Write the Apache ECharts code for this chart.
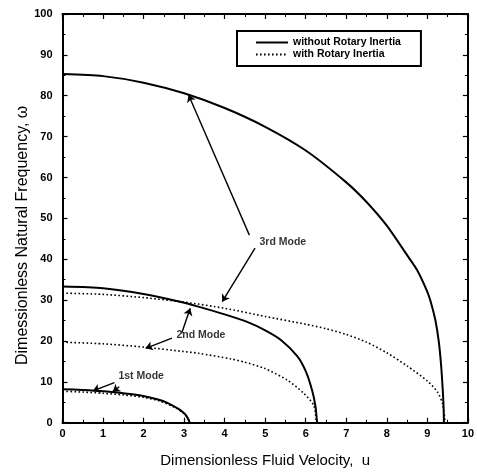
<!DOCTYPE html>
<html><head><meta charset="utf-8">
<script src="https://cdn.jsdelivr.net/npm/echarts@6/dist/echarts.min.js"></script>
<style>html,body{margin:0;padding:0;background:#fff}#c{width:477px;height:476px}</style>
</head><body><div id="c"></div>
<script>
// ---- data ----
const xTickLabels = ['0','1','2','3','4','5','6','7','8','9','10'];
const yTickLabels = ['0','10','20','30','40','50','60','70','80','90','100'];
const seriesNames = ['without Rotary Inertia', 'with Rotary Inertia'];

const mode1Without = [[0,8.2],[0.5,8.0],[1,7.7],[1.5,7.2],[1.9,6.7],[2.38,5.6],[2.6,4.8],[2.87,3.3],[3.0,2.3],[3.08,1.3],[3.14,0]];
const mode1With    = [[0,7.7],[0.5,7.5],[1,7.2],[1.5,6.8],[2,6.2],[2.4,5.3],[2.8,3.6],[3.0,2.2],[3.1,1.0],[3.14,0]];
const mode2Without = [[0,33.3],[1,32.9],[2,31.5],[2.9,29.6],[3.35,28.4],[4,26.5],[4.57,24.6],[5,22.6],[5.38,20.3],[5.79,16.3],[6.0,12.6],[6.16,7.8],[6.24,4.0],[6.28,0]];
const mode2With    = [[0,19.7],[1,19.3],[2,18.5],[3,17.4],[3.35,17.0],[4.16,15.6],[4.5,14.8],[4.98,13.3],[5.55,10.4],[5.95,7.2],[6.2,4.2],[6.26,0]];
const mode3Without = [[0,85.3],[1,84.8],[2,83.2],[3,80.6],[4,77.0],[5,72.4],[6,66.6],[7,58.8],[7.5,54.0],[8,48.2],[8.5,41.0],[8.75,37.3],[9,32.0],[9.1,29.0],[9.2,25.0],[9.28,20.0],[9.34,14.0],[9.38,8.0],[9.4,4.0],[9.41,0]];
const mode3With    = [[0,31.7],[1,31.4],[2,30.6],[3,29.5],[4,28.0],[5,26.0],[6,24.1],[6.5,23.0],[7,21.6],[7.5,19.7],[8,17.1],[8.5,13.9],[9,10.2],[9.25,7.5],[9.38,4.5],[9.44,0]];

const annotationLabels = [[4.86,44.2,'3rd Mode'],[2.81,21.4,'2nd Mode'],[1.38,11.4,'1st Mode']];
const annotationArrows = [
  [[4.61,45.9],[3.11,80.2]], [[4.75,42.7],[3.94,29.6]],
  [[2.70,20.7],[2.05,18.2]], [[2.94,21.9],[3.15,28.0]],
  [[1.28,9.8],[0.75,7.8]], [[1.40,8.8],[1.24,7.6]]
];

// ---- chart ----
const font = 'Liberation Sans, Arial, sans-serif';
const solidStyle = {color:'#000', width:2, type:'solid'};
const dotStyle = {color:'#000', width:1.6, type:[1.6,2.4]};
function lineSeries(name, data, style){
  return {name, type:'line', data, showSymbol:false, symbol:'none', smooth:0.25,
    lineStyle:style, itemStyle:{color:'#000'}, animation:false, z:3};
}
function axisBase(extra){
  return Object.assign({
    axisLine:{show:true, onZero:false, lineStyle:{color:'#000', width:2}},
    axisTick:{show:true, inside:true, length:5, lineStyle:{color:'#000', width:1.2}},
    minorTick:{show:true, splitNumber:2, length:3, lineStyle:{color:'#000', width:1}},
    splitLine:{show:false}
  }, extra);
}
const chart = echarts.init(document.getElementById('c'), null, {renderer:'canvas'});
chart.setOption({
  backgroundColor:'#fff',
  animation:false,
  grid:{left:62.5, right:4.3, top:14, bottom:53.3, containLabel:false},
  legend:{
    data:seriesNames, orient:'vertical', left:237, top:31,
    padding:[6,20,6,18], itemGap:1, itemWidth:32, itemHeight:10,
    borderColor:'#000', borderWidth:2, backgroundColor:'#fff',
    itemStyle:{opacity:0},
    textStyle:{fontFamily:font, fontWeight:'bold', fontSize:10.5, color:'#000'},
    selectedMode:false
  },
  xAxis:[
    axisBase({type:'value', position:'bottom', min:0, max:10, interval:1,
      axisLabel:{color:'#000', fontFamily:font, fontWeight:'bold', fontSize:11, margin:6,
        formatter:(v)=>xTickLabels[Math.round(v)]},
      name:'Dimensionless Fluid Velocity,  u', nameLocation:'middle', nameGap:31, nameMoveOverlap:false,
      nameTextStyle:{color:'#000', fontFamily:font, fontSize:15}}),
    axisBase({type:'value', position:'top', min:0, max:10, interval:1, axisLabel:{show:false}})
  ],
  yAxis:[
    axisBase({type:'value', position:'left', min:0, max:100, interval:10,
      axisLabel:{color:'#000', fontFamily:font, fontWeight:'bold', fontSize:11, margin:10,
        formatter:(v)=>yTickLabels[Math.round(v/10)]},
      name:'Dimessionless Natural Frequency, \u03c9', nameLocation:'middle', nameGap:32, nameMoveOverlap:false,
      nameTextStyle:{color:'#000', fontFamily:font, fontSize:16, padding:[0,34,0,0]}}),
    axisBase({type:'value', position:'right', min:0, max:100, interval:10, axisLabel:{show:false}})
  ],
  series:[
    lineSeries(seriesNames[0], mode1Without, solidStyle),
    lineSeries(seriesNames[1], mode1With, dotStyle),
    lineSeries(seriesNames[0], mode2Without, solidStyle),
    lineSeries(seriesNames[1], mode2With, dotStyle),
    lineSeries(seriesNames[0], mode3Without, solidStyle),
    lineSeries(seriesNames[1], mode3With, dotStyle),
    {
      name:'annotations', type:'scatter', data:annotationLabels, symbolSize:0, silent:true, animation:false,
      label:{show:true, position:'inside', align:'left', verticalAlign:'middle', offset:[0,0],
        formatter:(p)=>p.value[2], color:'#000', fontFamily:font, fontWeight:'bold', fontSize:10.5},
      markLine:{
        silent:true, animation:false, symbol:['none','arrow'], symbolSize:7, precision:4,
        lineStyle:{color:'#000', width:1.4, type:'solid'},
        label:{show:false}, emphasis:{disabled:true},
        data:annotationArrows.map(a=>[{coord:a[0]},{coord:a[1]}])
      }
    }
  ]
});
</script>
</body></html>
